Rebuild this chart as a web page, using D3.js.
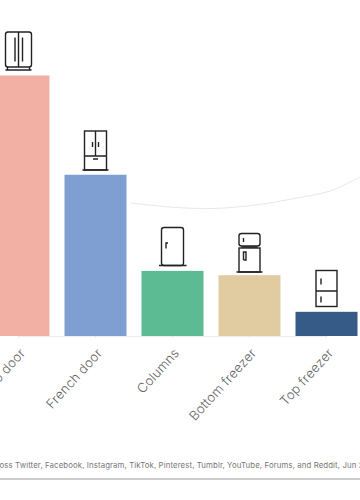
<!DOCTYPE html>
<html><head><meta charset="utf-8">
<script src="https://cdn.jsdelivr.net/npm/d3@7"></script>
<style>html,body{margin:0;padding:0;background:#fff;overflow:hidden}svg{display:block}
text{font-family:Inter,Lato,sans-serif}</style></head>
<body><div id="c"></div>
<script>
const categories = ["Two door","French door","Columns","Bottom freezer","Top freezer"];
const shares = [42,26,10.5,9.8,3.9];
const colors = ["#f1b0a3","#7f9fd3","#5dbb94","#e1cca2","#365b86"];
const captionText = "across Twitter, Facebook, Instagram, TikTok, Pinterest, Tumblr, YouTube, Forums, and Reddit, Jun 2021";
const curveX = [131,170,213,255,297,330,360];
const curveY = [203,207,208.5,205,198,191,177];

const W=360,H=500;
const svg=d3.select("#c").append("svg").attr("width",W).attr("height",H);
const xx=d3.scalePoint().domain(categories).range([18,326]);
const bw=62;
const y=d3.scaleLinear().domain([0,42]).range([336,75.5]);

svg.append("path").datum(curveX.map((d,i)=>[d,curveY[i]]))
 .attr("d",d3.line().curve(d3.curveCatmullRom)).attr("fill","none").attr("stroke","#e8e8e8").attr("stroke-width",1);

const axis=svg.append("g").attr("transform","translate(0,336)").call(d3.axisBottom(xx).tickSize(2).tickPadding(9));
axis.select(".domain").attr("stroke","#eeeeee");
axis.selectAll(".tick line").attr("stroke","#e6e6e6");
axis.selectAll(".tick text").attr("fill","#666").style("font-size","13px").style("font-weight","300").style("letter-spacing","0.2px")
 .attr("text-anchor","end").attr("transform","rotate(-47.5)").attr("x",-8).attr("y",17.5).attr("dy",0);

svg.selectAll("rect.bar").data(categories).join("rect").attr("class","bar")
 .attr("x",d=>xx(d)-bw/2+0.5).attr("width",bw)
 .attr("y",(d,i)=>y(shares[i])).attr("height",(d,i)=>y(0)-y(shares[i]))
 .attr("fill",(d,i)=>colors[i]);

const ink="#222";
const icons=[
 (g)=>{
  g.append("rect").attr("x",-13).attr("y",-38.5).attr("width",26).attr("height",35).attr("rx",2.5);
  g.append("path").attr("d","M0,-38.5V-3.5M-3.5,-33V-9M4,-33V-9M-11,-3.5V-1M11,-3.5V-1M-13,-0.5H13");
 },
 (g)=>{
  g.append("rect").attr("x",-11).attr("y",-39).attr("width",22).attr("height",39);
  g.append("path").attr("d","M0,-39V-14M-11,-14H11M-3,-28V-23M3,-28V-23M-2.5,-11H2.5M-13,0H13");
 },
 (g)=>{
  g.append("rect").attr("x",-11).attr("y",-38).attr("width",22).attr("height",38).attr("rx",2.5);
  g.append("path").attr("d","M-6.5,-17V-22.5H-4.5M-13.5,0H14");
 },
 (g)=>{
  g.append("rect").attr("x",-10.5).attr("y",-38.5).attr("width",21).attr("height",12.5).attr("rx",2.5);
  g.append("rect").attr("x",-10.5).attr("y",-24).attr("width",21).attr("height",24);
  g.append("path").attr("d","M-6,-34V-30M-8,-25H8M-6,-12V-20H-3.5V-12H-6M-13,0H13");
 },
 (g)=>{
  g.append("rect").attr("x",-10.5).attr("y",-36).attr("width",21).attr("height",36);
  g.append("path").attr("d","M-10.5,-15.5H10.5M-5.5,-28V-22M-5.5,-10V-4");
 }
];
const iconBottom=[70.5,170,265.5,272,306.5];
categories.forEach((c,i)=>{
 const g=svg.append("g").attr("transform",`translate(${xx(c)+0.5},${iconBottom[i]})`)
  .attr("fill","none").attr("stroke",ink).attr("stroke-width",1.4);
 icons[i](g);
});

svg.append("text").text(captionText).attr("x",-12.5).attr("y",468).attr("fill","#777").style("font-size","7.8px").style("letter-spacing","0.11px");
svg.append("rect").attr("x",0).attr("y",478).attr("width",W).attr("height",2).attr("fill","#cccccc");
</script></body></html>
